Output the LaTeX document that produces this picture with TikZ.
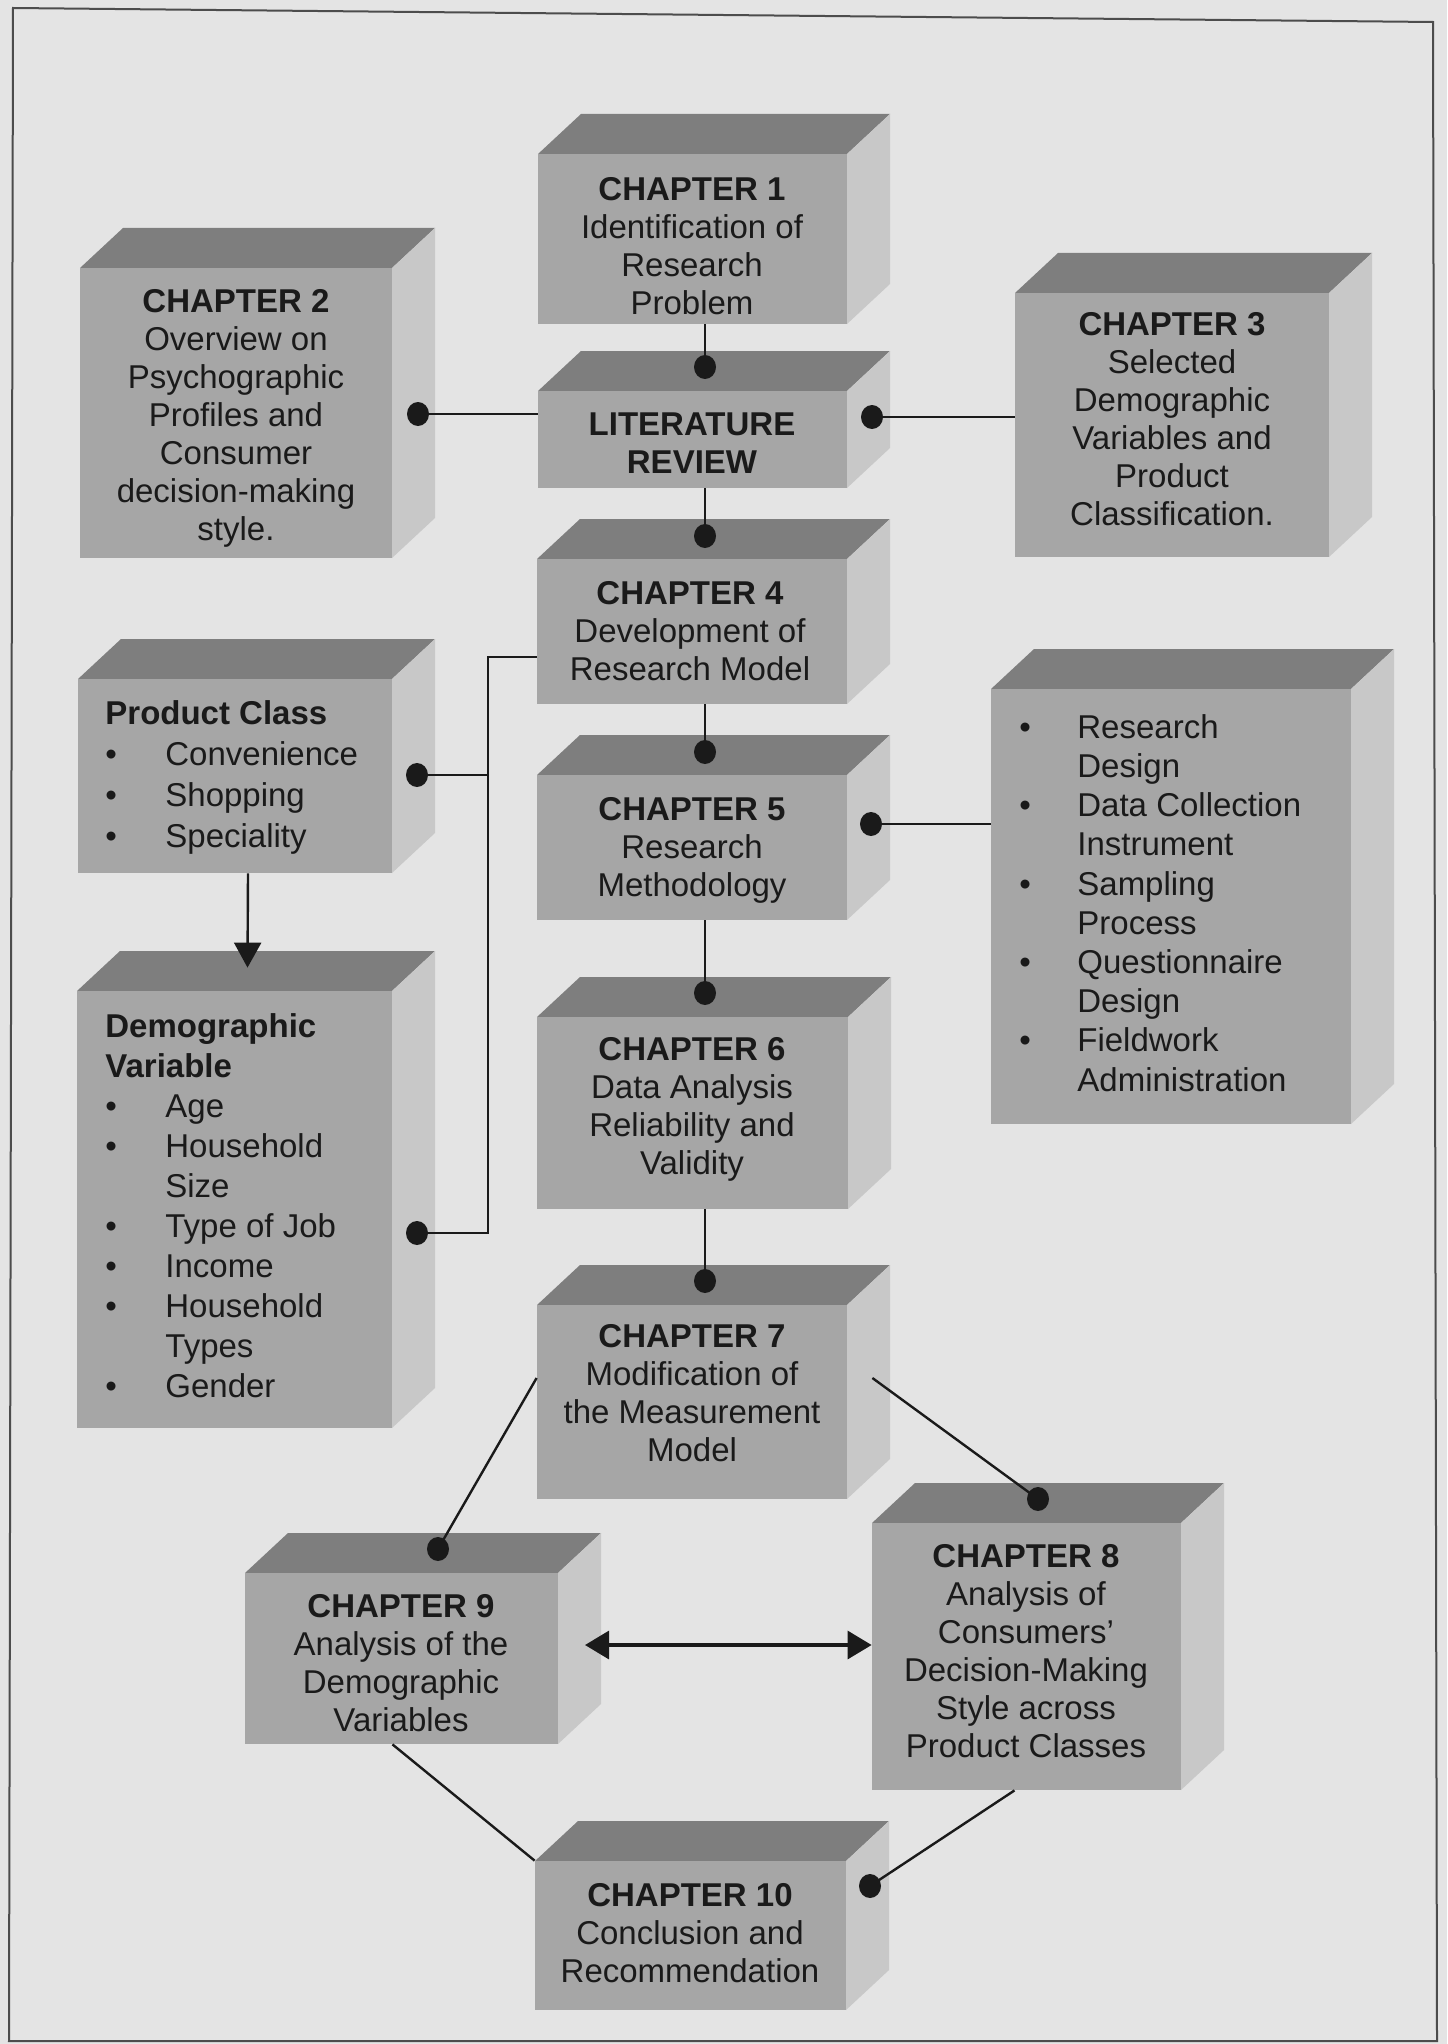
\documentclass[tikz,border=0pt]{standalone}
\usepackage{fontspec}
\setmainfont{Liberation Sans}
\usetikzlibrary{fit,arrows.meta}
\definecolor{pagebg}{HTML}{E4E4E4}
\definecolor{frontc}{HTML}{A6A6A6}
\definecolor{topc}{HTML}{7E7E7E}
\definecolor{sidec}{HTML}{C8C8C8}
\definecolor{inkc}{HTML}{1A1A1A}
\tikzset{
  front/.style={fill=frontc, inner sep=0pt, draw=none},
  topface/.style={fill=topc},
  sideface/.style={fill=sidec},
  ctext/.style={anchor=north, inner sep=0pt, align=center, text=inkc, font=\fontsize{16.5}{19}\selectfont},
  ltext/.style={anchor=north west, inner sep=0pt, align=left, text=inkc, font=\fontsize{16.5}{#1}\selectfont},
  conn/.style={draw=inkc, line width=1.2pt},
  dblconn/.style={draw=inkc, line width=1.6pt, {Triangle[width=14pt,length=12pt]}-{Triangle[width=14pt,length=12pt]}},
  dotmark/.style={fill=inkc},
}
\newcommand\cubebox[5]{%
  \fill[topface] (#2,#3) -- ({#2+43},{#3-40}) -- ({#4+43},{#3-40}) -- (#4,#3) -- cycle;
  \fill[sideface] (#4,#3) -- ({#4+43},{#3-40}) -- ({#4+43},{#5-40}) -- (#4,#5) -- cycle;
  \node[front, fit={(#2,#3) (#4,#5)}] (#1) {};
}
\newcommand\bdot[3]{\coordinate (#1) at (#2,#3);}
\newcommand\drawdot[1]{\fill[dotmark] (#1) ellipse [x radius=5.5pt, y radius=6pt];}
\newcommand\bul{\makebox[30pt][l]{\textbullet}}
\newcommand\bulb{\makebox[29pt][l]{\textbullet}}
\begin{document}
\begin{tikzpicture}[x=0.5pt,y=-0.5pt]
\fill[pagebg] (0,0) rectangle (1447,2044);
\useasboundingbox (0,0) rectangle (1447,2044);
\draw[line width=1pt, draw=black!70] (13,8) -- (1433,22) -- (1437,2041) -- (9,2041) -- cycle;

% boxes
\cubebox{c1}{538}{154}{847}{324}
\cubebox{lit}{538}{391}{847}{488}
\cubebox{c2}{80}{268}{392}{558}
\cubebox{c3}{1015}{293}{1329}{557}
\cubebox{c4}{537}{559}{847}{704}
\cubebox{c5}{537}{775}{847}{920}
\cubebox{c6}{537}{1017}{848}{1209}
\cubebox{c7}{537}{1305}{847}{1499}
\cubebox{pc}{78}{679}{392}{873}
\cubebox{dv}{77}{991}{392}{1428}
\cubebox{bul}{991}{689}{1351}{1124}
\cubebox{c8}{872}{1523}{1181}{1790}
\cubebox{c9}{245}{1573}{558}{1744}
\cubebox{c10}{535}{1861}{846}{2010}

% texts
\node[ctext] (t1) at (692,177) {\textbf{CHAPTER 1}\\Identification of\\Research\\Problem};
\node[ctext] (tlit) at (692,412) {\textbf{LITERATURE}\\\textbf{REVIEW}};
\node[ctext] (t2) at (236,289) {\textbf{CHAPTER 2}\\Overview on\\Psychographic\\Profiles and\\Consumer\\decision-making\\style.};
\node[ctext] (t3) at (1172,312) {\textbf{CHAPTER 3}\\Selected\\Demographic\\Variables and\\Product\\Classification.};
\node[ctext] (t4) at (690,581) {\textbf{CHAPTER 4}\\Development of\\Research Model};
\node[ctext] (t5) at (692,797) {\textbf{CHAPTER 5}\\Research\\Methodology};
\node[ctext] (t6) at (692,1037) {\textbf{CHAPTER 6}\\Data Analysis\\Reliability and\\Validity};
\node[ctext] (t7) at (692,1324) {\textbf{CHAPTER 7}\\Modification of\\the Measurement\\Model};
\node[ctext] (t8) at (1026,1544) {\textbf{CHAPTER 8}\\Analysis of\\Consumers’\\Decision-Making\\Style across\\Product Classes};
\node[ctext] (t9) at (401,1594) {\textbf{CHAPTER 9}\\Analysis of the\\Demographic\\Variables};
\node[ctext] (t10) at (690,1883) {\textbf{CHAPTER 10}\\Conclusion and\\Recommendation};
\node[ltext=20.6] (tpc) at (105,700) {\textbf{Product Class}\\\bul Convenience\\\bul Shopping\\\bul Speciality};
\node[ltext=20] (tdv) at (105,1013) {\textbf{Demographic}\\\textbf{Variable}\\\bul Age\\\bul Household\\\hspace*{30pt}Size\\\bul Type of Job\\\bul Income\\\bul Household\\\hspace*{30pt}Types\\\bul Gender};
\node[ltext=19.6] (tbul) at (1019,714) {\bulb Research\\\hspace*{29pt}Design\\\bulb Data Collection\\\hspace*{29pt}Instrument\\\bulb Sampling\\\hspace*{29pt}Process\\\bulb Questionnaire\\\hspace*{29pt}Design\\\bulb Fieldwork\\\hspace*{29pt}Administration};

% dot positions
\bdot{dA}{705}{367}
\bdot{dB}{705}{536}
\bdot{dC}{705}{752}
\bdot{dD}{705}{993}
\bdot{dE}{705}{1281}
\bdot{dF}{418}{414}
\bdot{dG}{872}{417}
\bdot{dH}{417}{775}
\bdot{dI}{417}{1233}
\bdot{dJ}{871}{824}
\bdot{dK}{438}{1549}
\bdot{dL}{1038}{1499}
\bdot{dM}{870}{1886}
\coordinate (jtop) at (488,657);
\coordinate (aL) at (585,1645);

% connectors
\draw[conn] (c1.south -| dA) -- (dA);
\draw[conn] (lit.south -| dB) -- (dB);
\draw[conn] (c4.south -| dC) -- (dC);
\draw[conn] (c5.south -| dD) -- (dD);
\draw[conn] (c6.south -| dE) -- (dE);
\draw[conn] (dF) -- (lit.west |- dF);
\draw[conn] (dG) -- (c3.west |- dG);
\draw[conn] (c4.west |- jtop) -- (jtop) -- (jtop |- dI) -- (dI);
\draw[conn] (dH) -- (jtop |- dH);
\draw[conn] (dJ) -- (bul.west |- dJ);
\draw[conn] ([yshift=12pt]c7.west) -- (dK);
\draw[conn] ([xshift=12.5pt,yshift=12pt]c7.east) -- (dL);
\draw[conn] ([xshift=-6pt]c8.south) -- (dM);
\draw[conn] ([xshift=-4.5pt]c9.south) -- (c10.north west);
\draw[dblconn] (aL) -- (c8.west |- aL);
\draw[conn, -{Triangle[width=13.5pt,length=12.5pt]}] ([xshift=6.5pt]pc.south) -- ([xshift=6.5pt,yshift=11.5pt]dv.north);

% dots
\drawdot{dA}\drawdot{dB}\drawdot{dC}\drawdot{dD}\drawdot{dE}
\drawdot{dF}\drawdot{dG}\drawdot{dH}\drawdot{dI}\drawdot{dJ}
\drawdot{dK}\drawdot{dL}\drawdot{dM}
\end{tikzpicture}
\end{document}
